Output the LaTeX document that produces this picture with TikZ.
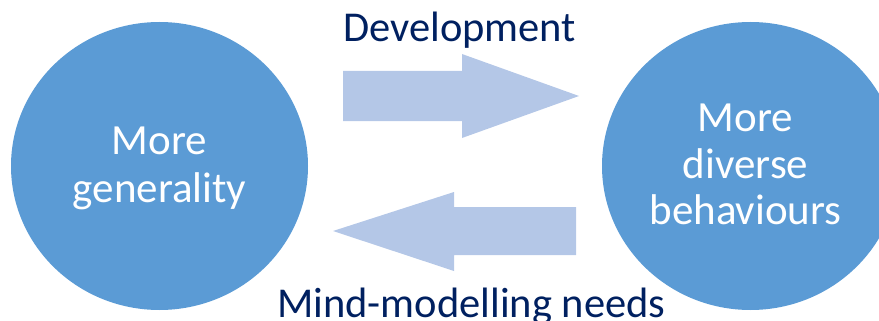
\documentclass[tikz,border=0pt]{standalone}
\usepackage{fontspec}
\setmainfont{Carlito}
\usetikzlibrary{shapes.geometric}
\definecolor{bubble}{HTML}{5B9BD5}
\definecolor{flow}{HTML}{B4C7E7}
\definecolor{navy}{HTML}{002060}
\begin{document}
\begin{tikzpicture}[x=1pt,y=-1pt,
  bubble/.style={ellipse,fill=bubble,draw=none,minimum width=297pt,minimum height=288pt,inner sep=0pt},
  bubbletext/.style={text=white,align=center,inner sep=0pt},
  caption/.style={text=navy,font=\fontsize{42.5}{48}\selectfont,inner sep=0pt,anchor=base west},
  flowarrow/.style={fill=flow,draw=none}]
\useasboundingbox (0,0) rectangle (879,321);
\clip (0,0) rectangle (879,321);
% the two states
\node[bubble] (gen) at (159.5,166) {};
\node[bubble] (div) at (750.5,166) {};
\node[bubbletext,font=\fontsize{43}{48}\selectfont] (gentext) at (159.5,168.5) {More\\generality};
\node[bubbletext,font=\fontsize{43}{46.5}\selectfont] (divtext) at (745.5,164.6) {More\\diverse\\behaviours};
% block arrows between them
\coordinate (dtip) at (579,96);
\fill[flowarrow] (343,71) -- (462,71) -- (462,54) -- (dtip) -- (462,138) -- (462,121) -- (343,121) -- cycle;
\coordinate (mtip) at (333,231);
\fill[flowarrow] (576,207) -- (454,207) -- (454,192) -- (mtip) -- (454,271) -- (454,255) -- (576,255) -- cycle;
% captions
\node[caption] (dev) at (343,42) {Development};
\node[caption] (mind) at (277,317) {Mind-modelling needs};
\end{tikzpicture}
\end{document}
